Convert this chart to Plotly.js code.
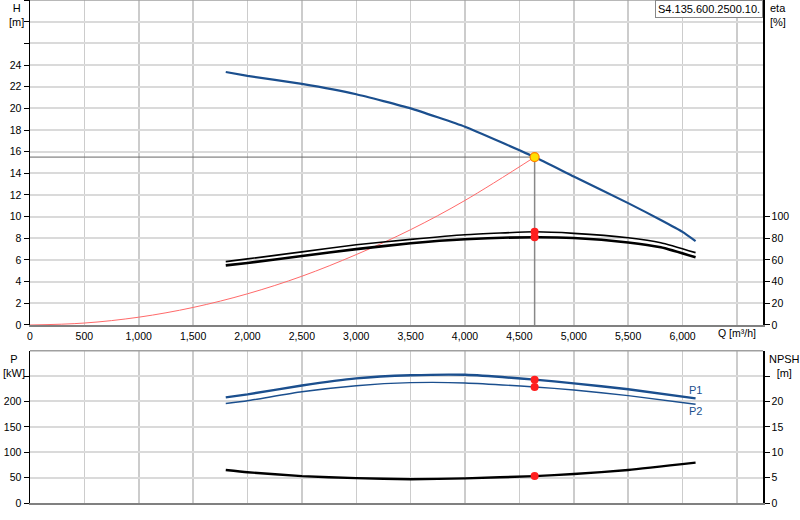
<!DOCTYPE html>
<html>
<head>
<meta charset="utf-8">
<script src="https://cdn.plot.ly/plotly-3.0.1.min.js"></script>
<style>
  html, body { margin: 0; padding: 0; background: #fff; }
  #plot { width: 800px; height: 520px; }
</style>
</head>
<body>
<div id="plot"></div>
<script>
// Pump curve H(Q)
var qH = [1800, 2000, 2500, 3000, 3500, 4000, 4640, 5000, 5500, 5800, 6000, 6120];
var head = [23.35, 23.0, 22.25, 21.3, 20.0, 18.3, 15.5, 13.7, 11.25, 9.7, 8.6, 7.75];

// System curve
var qSys = [0, 500, 1000, 1500, 2000, 2500, 3000, 3500, 4000, 4640];
var hSys = [0, 0.18, 0.72, 1.62, 2.88, 4.5, 6.5, 8.8, 11.5, 15.5];

// Efficiency curves [%]
var qEta = [1800, 2000, 2500, 3000, 3500, 4000, 4640, 5000, 5500, 5800, 6120];
var etaUpper = [58.5, 61, 67.5, 74, 79, 83.3, 86, 84.6, 80.5, 76, 66.8];
var etaLower = [55, 57.2, 63.7, 70, 75.5, 79.2, 81, 80.3, 76.2, 71.7, 62.5];

// Power P1, P2 [kW]
var qP = [1800, 2000, 2500, 3000, 3500, 4000, 4640, 5000, 5500, 6120];
var p1 = [208, 214, 231.5, 245.5, 251.5, 252.5, 243, 235.7, 224, 206];
var p2 = [196, 201.5, 219, 231, 237, 236.5, 228.5, 222.6, 211.4, 194.4];

// NPSH [m]
var qN = [1800, 2000, 2500, 3000, 3500, 4000, 4640, 5000, 5500, 6120];
var npsh = [6.5, 6.05, 5.3, 4.9, 4.68, 4.85, 5.3, 5.7, 6.5, 7.95];

// Duty point
var opQ = 4640;
var opH = 15.5;
var opEta = [86, 81];
var opP = [243, 228.5];
var opNpsh = 5.3;

// Axis ticks
var qTicks = [0, 500, 1000, 1500, 2000, 2500, 3000, 3500, 4000, 4500, 5000, 5500, 6000, 6500];
var qTickText = ['0', '500', '1,000', '1,500', '2,000', '2,500', '3,000', '3,500', '4,000', '4,500', '5,000', '5,500', '6,000', ''];
var hTicks = [0, 2, 4, 6, 8, 10, 12, 14, 16, 18, 20, 22, 24, 26, 28, 30];
var hTickText = ['0', '2', '4', '6', '8', '10', '12', '14', '16', '18', '20', '22', '24', '', '', ''];
var etaTicks = [0, 20, 40, 60, 80, 100];
var pTicks = [0, 50, 100, 150, 200, 250];
var pTickText = ['0', '50', '100', '150', '200', ''];
var nTicks = [0, 5, 10, 15, 20, 25];
var nTickText = ['0', '5', '10', '15', '20', ''];

var blue = '#1b4f8e';
var red = '#ff1f1f';

var data = [
  {x: [0, opQ], y: [opH, opH], mode: 'lines', line: {color: '#666', width: 1}, xaxis: 'x', yaxis: 'y'},
  {x: [opQ, opQ], y: [0, opH], mode: 'lines', line: {color: '#888', width: 1.5}, xaxis: 'x', yaxis: 'y'},
  {x: qSys, y: hSys, mode: 'lines', line: {color: '#ff6a6a', width: 1, shape: 'spline'}, xaxis: 'x', yaxis: 'y'},
  {x: qH, y: head, mode: 'lines', line: {color: blue, width: 2.2, shape: 'spline', smoothing: 0.4}, xaxis: 'x', yaxis: 'y'},
  {x: qEta, y: etaUpper, mode: 'lines', line: {color: '#000', width: 1.6, shape: 'spline', smoothing: 0.5}, xaxis: 'x', yaxis: 'y2'},
  {x: qEta, y: etaLower, mode: 'lines', line: {color: '#000', width: 2.6, shape: 'spline', smoothing: 0.5}, xaxis: 'x', yaxis: 'y2'},
  {x: [opQ, opQ], y: opEta, mode: 'markers', marker: {color: red, size: 8}, xaxis: 'x', yaxis: 'y2'},
  {x: [opQ], y: [opH], mode: 'markers', marker: {color: '#ffe000', size: 9, line: {color: '#ff8000', width: 1.2}}, xaxis: 'x', yaxis: 'y'},

  {x: qP, y: p1, mode: 'lines', line: {color: blue, width: 2.4, shape: 'spline', smoothing: 0.5}, xaxis: 'x2', yaxis: 'y3'},
  {x: qP, y: p2, mode: 'lines', line: {color: blue, width: 1.4, shape: 'spline', smoothing: 0.5}, xaxis: 'x2', yaxis: 'y3'},
  {x: qN, y: npsh, mode: 'lines', line: {color: '#000', width: 2.4, shape: 'spline', smoothing: 0.5}, xaxis: 'x2', yaxis: 'y4'},
  {x: [opQ, opQ], y: opP, mode: 'markers', marker: {color: red, size: 8}, xaxis: 'x2', yaxis: 'y3'},
  {x: [opQ], y: [opNpsh], mode: 'markers', marker: {color: red, size: 8}, xaxis: 'x2', yaxis: 'y4'}
];

var tickFont = {family: 'Liberation Sans, Arial, sans-serif', size: 10.5, color: '#000'};

var layout = {
  width: 800,
  height: 520,
  margin: {l: 30, r: 37, t: 0, b: 17},
  showlegend: false,
  paper_bgcolor: '#fff',
  plot_bgcolor: '#fff',
  font: tickFont,
  xaxis: {
    domain: [0, 1], range: [0, 6740], anchor: 'y',
    tickvals: qTicks, ticktext: qTickText, tickfont: tickFont,
    showgrid: true, gridcolor: '#cccccc', gridwidth: 1.5,
    showline: true, linecolor: '#808080', linewidth: 2,
    zeroline: false, ticks: ''
  },
  yaxis: {
    domain: [0.3539, 1], range: [0, 30], anchor: 'x',
    tickvals: hTicks, ticktext: hTickText, tickfont: tickFont,
    ticks: 'outside', ticklen: 5, tickcolor: '#000',
    showgrid: true, gridcolor: '#dadada', gridwidth: 2,
    showline: true, linecolor: '#000', linewidth: 1.5, zeroline: false
  },
  yaxis2: {
    overlaying: 'y', side: 'right', anchor: 'x', range: [0, 300],
    tickvals: etaTicks, tickfont: tickFont,
    ticks: 'outside', ticklen: 5, tickcolor: '#000',
    showgrid: false, showline: true, linecolor: '#000', linewidth: 1.5, zeroline: false
  },
  xaxis2: {
    domain: [0, 1], range: [0, 6740], anchor: 'y3', matches: 'x',
    tickvals: qTicks, showticklabels: false,
    showgrid: true, gridcolor: '#cccccc', gridwidth: 1.5,
    showline: true, linecolor: '#808080', linewidth: 2,
    zeroline: false, ticks: ''
  },
  yaxis3: {
    domain: [0, 0.3028], range: [0, 300], anchor: 'x2',
    tickvals: pTicks, ticktext: pTickText, tickfont: tickFont,
    ticks: 'outside', ticklen: 5, tickcolor: '#000',
    showgrid: true, gridcolor: '#dadada', gridwidth: 2,
    showline: true, linecolor: '#000', linewidth: 1.5, zeroline: false
  },
  yaxis4: {
    overlaying: 'y3', side: 'right', anchor: 'x2', range: [0, 30],
    tickvals: nTicks, ticktext: nTickText, tickfont: tickFont,
    ticks: 'outside', ticklen: 5, tickcolor: '#000',
    showgrid: false, showline: true, linecolor: '#000', linewidth: 1.5, zeroline: false
  },
  shapes: [
    {type: 'line', xref: 'paper', yref: 'paper', x0: 0, x1: 1, y0: 1, y1: 1, line: {color: '#a0a0a0', width: 1.5}},
    {type: 'line', xref: 'paper', yref: 'paper', x0: 0, x1: 1, y0: 0.3028, y1: 0.3028, line: {color: '#a0a0a0', width: 1.5}}
  ],
  annotations: [
    {text: 'H<br>[m]', xref: 'paper', yref: 'paper', x: -0.018, y: 1.0, xanchor: 'center', yanchor: 'top', showarrow: false, font: {size: 11}},
    {text: 'eta<br>[%]', xref: 'paper', yref: 'paper', x: 1.007, y: 1.0, xanchor: 'left', yanchor: 'top', showarrow: false, align: 'left', font: {size: 11}},
    {text: 'P<br>[kW]', xref: 'paper', yref: 'paper', x: -0.022, y: 0.302, xanchor: 'center', yanchor: 'top', showarrow: false, font: {size: 11}},
    {text: 'NPSH<br>[m]', xref: 'paper', yref: 'paper', x: 1.005, y: 0.302, xanchor: 'left', yanchor: 'top', showarrow: false, align: 'center', font: {size: 11}},
    {text: 'Q [m³/h]', xref: 'x', yref: 'paper', x: 6500, y: 0.338, xanchor: 'center', yanchor: 'middle', showarrow: false, font: {size: 10.5}},
    {text: 'P1', xref: 'x2', yref: 'y3', x: 6120, y: 223, xanchor: 'center', yanchor: 'middle', showarrow: false, font: {size: 11, color: blue}},
    {text: 'P2', xref: 'x2', yref: 'y3', x: 6120, y: 182, xanchor: 'center', yanchor: 'middle', showarrow: false, font: {size: 11, color: blue}},
    {text: 'S4.135.600.2500.10.', xref: 'paper', yref: 'paper', x: 1, y: 1, xanchor: 'right', yanchor: 'top', showarrow: false,
     align: 'left', bgcolor: '#fff', bordercolor: '#888', borderwidth: 1, borderpad: 2, font: {size: 11}}
  ]
};

Plotly.newPlot('plot', data, layout, {staticPlot: true, displayModeBar: false});
</script>
</body>
</html>
